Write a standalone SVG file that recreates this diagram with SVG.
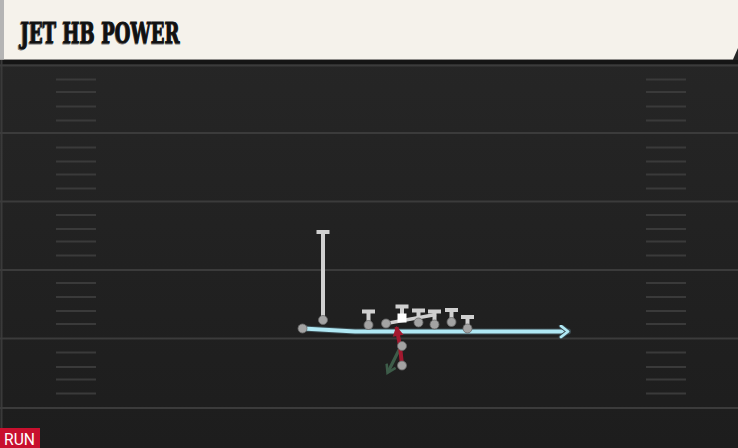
<svg xmlns="http://www.w3.org/2000/svg" width="738" height="448" viewBox="0 0 738 448">
<defs>
<linearGradient id="field" x1="0" y1="0" x2="0" y2="1">
<stop offset="0" stop-color="#272727"/>
<stop offset="1" stop-color="#1d1d1d"/>
</linearGradient>
<marker id="blueArrow" viewBox="0 0 14 14" refX="10" refY="7" markerWidth="14" markerHeight="14" markerUnits="userSpaceOnUse" orient="auto">
<path d="M3,1.5 L10,7 L3,12.5" fill="none" stroke="#3a4a50" stroke-width="4.5" stroke-linecap="round" stroke-linejoin="round"/>
<path d="M3,1.5 L10,7 L3,12.5" fill="none" stroke="#b0e8f4" stroke-width="2.8" stroke-linecap="round" stroke-linejoin="round"/>
</marker>
<marker id="redArrow" viewBox="0 0 12 12" refX="10" refY="6" markerWidth="12" markerHeight="12" markerUnits="userSpaceOnUse" orient="auto">
<path d="M1,0.5 L11,6 L1,11.5 Z" fill="#a3192f"/>
</marker>
<marker id="greenArrow" viewBox="0 0 12 12" refX="8" refY="6" markerWidth="12" markerHeight="12" markerUnits="userSpaceOnUse" orient="auto">
<path d="M1,1 L9,6 L1,11" fill="none" stroke="#3d5c49" stroke-width="2.6"/>
</marker>
</defs>
<style>
.yard{stroke:#3b3b3b;stroke-width:2}
.hash{stroke:#3a3a3a;stroke-width:2}
.dot{fill:#a3a3a3;stroke:#6a6a6a;stroke-width:0.8}
.tee{stroke:#d0d0d0;stroke-width:4;fill:none}
.title{font-family:"DejaVu Serif",serif;font-weight:bold;font-size:28px;stroke-width:0.9}
</style>
<rect x="0" y="0" width="738" height="448" fill="url(#field)"/>
<rect x="0" y="60" width="738" height="4" fill="#151515"/>
<line x1="1.5" y1="60" x2="1.5" y2="448" stroke="#3a3a3a" stroke-width="2"/>
<g id="yardlines">
<line class="yard" x1="0" y1="65.5" x2="738" y2="65.5"/>
<line class="yard" x1="0" y1="133" x2="738" y2="133"/>
<line class="yard" x1="0" y1="201.5" x2="738" y2="201.5"/>
<line class="yard" x1="0" y1="270" x2="738" y2="270"/>
<line class="yard" x1="0" y1="338.5" x2="738" y2="338.5"/>
<line class="yard" x1="0" y1="408" x2="738" y2="408"/>
</g>
<g id="hashes">
<path class="hash" d="M56,79.5H96M56,92H96M56,106.5H96M56,120.5H96M56,147.5H96M56,161.5H96M56,174.5H96M56,188.5H96M56,215H96M56,229H96M56,241.5H96M56,255.5H96M56,283H96M56,297H96M56,311H96M56,324H96M56,352.5H96M56,367H96M56,379.5H96M56,393.5H96"/>
<path class="hash" d="M646,79.5H686M646,92H686M646,106.5H686M646,120.5H686M646,147.5H686M646,161.5H686M646,174.5H686M646,188.5H686M646,215H686M646,229H686M646,241.5H686M646,255.5H686M646,283H686M646,297H686M646,311H686M646,324H686M646,352.5H686M646,367H686M646,379.5H686M646,393.5H686"/>
</g>
<g id="header">
<path d="M0,0H738V48L733,59.5H0Z" fill="#f5f2eb"/>
<rect x="0" y="0" width="4" height="59.5" fill="#b4b4b4"/>
<text class="title" x="19.5" y="43.5" fill="#7a7a7a" stroke="#7a7a7a" textLength="160" lengthAdjust="spacingAndGlyphs">JET HB POWER</text>
<text class="title" x="20.5" y="42.5" fill="#111111" stroke="#111111" textLength="159" lengthAdjust="spacingAndGlyphs">JET HB POWER</text>
</g>
<g id="connectors">
<path d="M303,328.5 L355,331.5 L568,331.5" fill="none" stroke="#3a4a50" stroke-width="6" stroke-linecap="round"/>
<path d="M303,328.5 L355,331.5 L568,331.5" fill="none" stroke="#b0e8f4" stroke-width="4" stroke-linecap="round" marker-end="url(#blueArrow)"/>
<path d="M386,323.5 L436,314.5" fill="none" stroke="#d0d0d0" stroke-width="3.5"/>
<path d="M401,346 L388,372" fill="none" stroke="#3d5c49" stroke-width="3.2" marker-end="url(#greenArrow)"/>
<path d="M402,365 L400,346 L396.5,327" fill="none" stroke="#a3192f" stroke-width="4" marker-end="url(#redArrow)"/>
</g>
<g id="wr">
<path class="tee" d="M323,319 V232 M316.5,232 H329.5"/>
<circle class="dot" cx="323" cy="320" r="4.5"/>
</g>
<g id="jet">
<circle class="dot" cx="302.5" cy="328.5" r="4.5"/>
</g>
<g id="lt">
<path class="tee" d="M368.5,324 V311.5 M362,311.5 H375"/>
<circle class="dot" cx="368.5" cy="325" r="4.5"/>
</g>
<g id="lg">
<circle class="dot" cx="386" cy="323.5" r="4.5"/>
</g>
<g id="c">
<path class="tee" d="M402,316 V306.5 M395.5,306.5 H408.5"/>
<rect x="397.5" y="313.5" width="9" height="9" fill="#ffffff"/>
</g>
<g id="rg">
<path class="tee" d="M418.5,321 V310.5 M412,310.5 H425"/>
<circle class="dot" cx="418.5" cy="322.5" r="4.5"/>
</g>
<g id="rt">
<path class="tee" d="M434.5,324 V311.5 M428,311.5 H441"/>
<circle class="dot" cx="434.5" cy="324.5" r="4.5"/>
</g>
<g id="te1">
<path class="tee" d="M451.5,321 V310 M445,310 H458"/>
<circle class="dot" cx="451.5" cy="322" r="4.5"/>
</g>
<g id="te2">
<path class="tee" d="M467.5,327 V317 M461,317 H474"/>
<circle class="dot" cx="467.5" cy="328.5" r="4.5"/>
</g>
<g id="qb">
<circle class="dot" cx="402" cy="346" r="4.5"/>
</g>
<g id="hb">
<circle class="dot" cx="402" cy="365.5" r="4.5"/>
</g>
<g id="tag">
<rect x="0" y="428" width="40" height="20" fill="#c8102e"/>
<text x="4" y="445" font-family="Roboto,sans-serif" font-size="16" fill="#ffffff" textLength="31" lengthAdjust="spacingAndGlyphs">RUN</text>
</g>
</svg>
